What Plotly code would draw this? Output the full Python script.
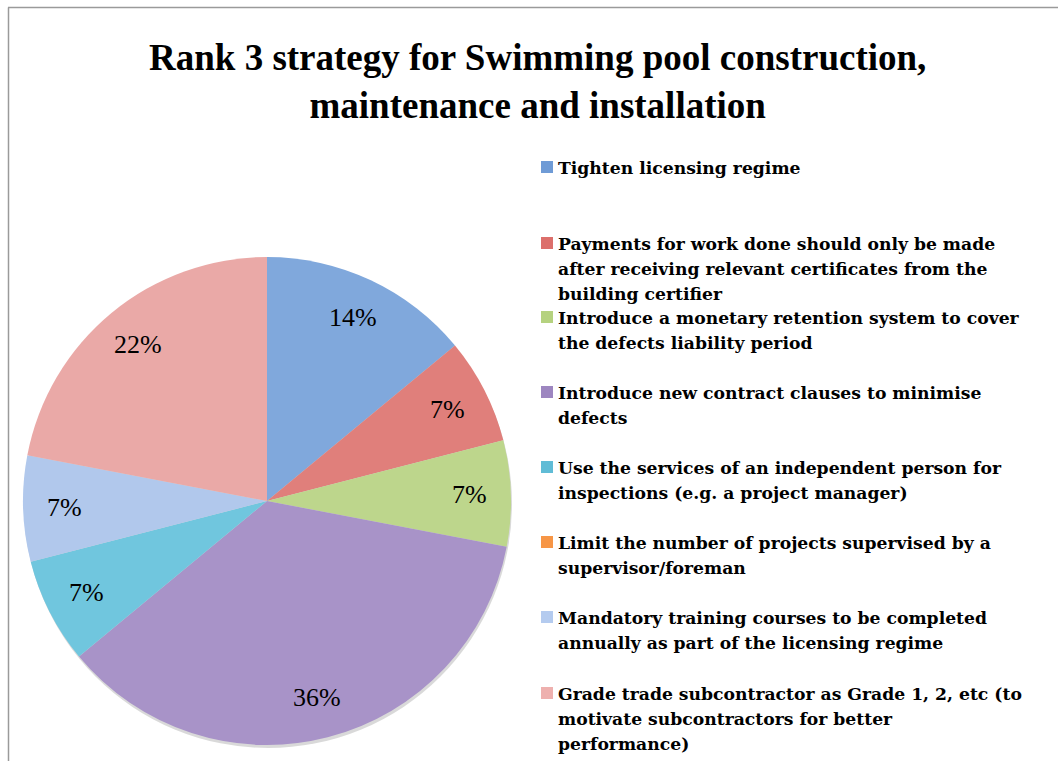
import math
import plotly.graph_objects as go

# Strategy categories (legend order, wrapped lines), share of respondents (%) and slice colours
strategies = [
    "Tighten licensing regime",
    "Payments for work done should only be made<br>after receiving relevant certificates from the<br>building certifier",
    "Introduce a monetary retention system to cover<br>the defects liability period",
    "Introduce new contract clauses to minimise<br>defects",
    "Use the services of an independent person for<br>inspections (e.g. a project manager)",
    "Limit the number of projects supervised by a<br>supervisor/foreman",
    "Mandatory training courses to be completed<br>annually as part of the licensing regime",
    "Grade trade subcontractor as Grade 1, 2, etc (to<br>motivate subcontractors for better<br>performance)",
]
shares = [14, 7, 7, 36, 7, 0, 7, 22]
colors = ["#80a8dc", "#e07f7b", "#bdd68c", "#a893c8", "#70c6de", "#f79646", "#b1c8ec", "#eaa9a7"]
legend_swatch = ["#6f9bd6", "#dc6f6b", "#b5d27f", "#9d86c0", "#60bcd6", "#f79646", "#b4cbef", "#eeb0ae"]

W, H = 1058, 761
cx, cy, R = 267, 501, 244  # pie centre / radius in pixels

fig = go.Figure()

# soft drop shadow under the pie
fig.add_shape(type="circle", xref="paper", yref="paper",
              x0=(cx - R + 1) / W, x1=(cx + R + 1) / W,
              y0=1 - (cy + R + 3) / H, y1=1 - (cy - R + 3) / H,
              line=dict(width=0), fillcolor="rgba(0,0,0,0.15)", layer="below")

fig.add_trace(go.Pie(
    labels=[s.replace("<br>", " ") for s in strategies],
    values=shares,
    sort=False,
    direction="clockwise",
    rotation=0,
    marker=dict(colors=colors, line=dict(width=0)),
    textinfo="none",
    hoverinfo="label+percent",
    domain=dict(x=[(cx - R) / W, (cx + R) / W], y=[1 - (cy + R) / H, 1 - (cy - R) / H]),
    showlegend=False,
))

annotations = []

# percentage labels placed at each slice's mid-angle
total = sum(shares)
acc = 0
for v in shares:
    if v > 0:
        mid = (acc + v / 2) / total * 2 * math.pi
        r = 0.83 * R
        px = cx + r * math.sin(mid)
        py = cy - r * math.cos(mid)
        annotations.append(dict(
            x=px / W, y=1 - py / H, xref="paper", yref="paper",
            text=f"{round(v / total * 100)}%", showarrow=False,
            font=dict(family="Liberation Serif", size=26, color="#000"),
            xanchor="center", yanchor="middle"))
    acc += v

# legend drawn as swatches and wrapped text, 25 px line pitch
shapes = []
first_line = [167, 243, 317, 392, 467, 542, 617, 693]
line_pitch = 25
for i, name in enumerate(strategies):
    yc = first_line[i]
    shapes.append(dict(type="rect", xref="paper", yref="paper",
                       x0=541 / W, x1=553 / W, y0=1 - (yc + 6) / H, y1=1 - (yc - 6) / H,
                       line=dict(width=0), fillcolor=legend_swatch[i]))
    for k, line in enumerate(name.split("<br>")):
        annotations.append(dict(
            x=556 / W, y=1 - (yc + 1 + k * line_pitch) / H, xref="paper", yref="paper",
            text=line, showarrow=False, align="left",
            font=dict(family="DejaVu Serif", size=17.2, color="#000", weight="bold"),
            xanchor="left", yanchor="middle"))

# chart title
annotations.append(dict(
    x=537 / W, y=1 - 35 / H, xref="paper", yref="paper",
    text="<b>Rank 3 strategy for Swimming pool construction,<br>maintenance and installation</b>",
    showarrow=False, align="center",
    font=dict(family="Liberation Serif", size=37, color="#000"),
    xanchor="center", yanchor="top"))

# chart area border
shapes.append(dict(type="line", xref="paper", yref="paper", x0=8 / W, x1=1.01, y0=1 - 7.5 / H, y1=1 - 7.5 / H,
                   line=dict(color="#9a9a9a", width=1.5)))
shapes.append(dict(type="line", xref="paper", yref="paper", x0=8.5 / W, x1=8.5 / W, y0=-0.01, y1=1 - 7.5 / H,
                   line=dict(color="#9a9a9a", width=1.5)))

fig.update_layout(
    width=W, height=H,
    margin=dict(l=0, r=0, t=0, b=0),
    paper_bgcolor="white", plot_bgcolor="white",
    annotations=annotations,
    shapes=list(fig.layout.shapes) + shapes,
)

fig.write_html("out.html")
